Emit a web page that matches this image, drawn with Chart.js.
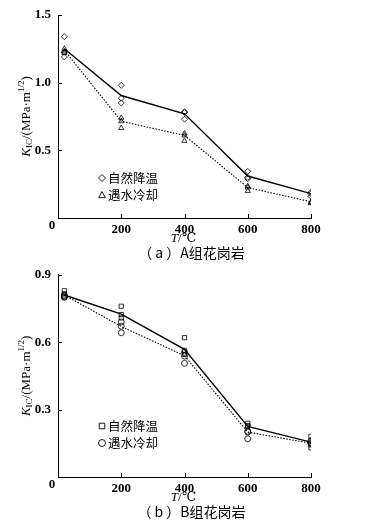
<!DOCTYPE html>
<html>
<head>
<meta charset="utf-8">
<script src="https://cdn.jsdelivr.net/npm/chart.js@4"></script>
<style>
body{margin:0;background:#fff;}
canvas{display:block;}
</style>
</head>
<body>
<canvas id="chartA" width="371" height="260"></canvas>
<canvas id="chartB" width="371" height="266"></canvas>
<script>
const temps = [20, 200, 400, 600, 800];
const seriesNames = ["自然降温", "遇水冷却"];

// (a) group A granite
const aNaturalMean = [1.25, 0.905, 0.77, 0.31, 0.18];
const aWaterMean = [1.24, 0.715, 0.61, 0.225, 0.12];
const aNaturalSamples = [[1.34, 1.225, 1.19], [0.98, 0.885, 0.85], [0.785, 0.78, 0.73], [0.345, 0.30, 0.29], [0.19, 0.18, 0.16]];
const aWaterSamples = [[1.25, 1.23, 1.22], [0.74, 0.715, 0.665], [0.625, 0.61, 0.57], [0.235, 0.225, 0.20], [0.12, 0.115, 0.11]];

// (b) group B granite
const bNaturalMean = [0.81, 0.725, 0.568, 0.225, 0.155];
const bWaterMean = [0.81, 0.67, 0.54, 0.20, 0.15];
const bNaturalSamples = [[0.829, 0.815, 0.80], [0.76, 0.723, 0.708], [0.62, 0.564, 0.546], [0.239, 0.229, 0.225], [0.181, 0.143, 0.13]];
const bWaterSamples = [[0.81, 0.805, 0.80], [0.69, 0.671, 0.642], [0.555, 0.538, 0.506], [0.204, 0.20, 0.17], [0.162, 0.155, 0.15]];

const SERIF = '"Liberation Serif", "DejaVu Serif", serif';
const CJK = '"Noto Sans CJK SC", sans-serif';

function meanPoints(means) {
  return temps.map((t, i) => ({ x: t, y: means[i] }));
}
function samplePoints(samples) {
  let pts = [];
  samples.forEach((vals, i) => vals.forEach(v => pts.push({ x: temps[i], y: v })));
  return pts;
}

function drawMarker(ctx, style, x, y, r) {
  ctx.beginPath();
  if (style === "rectRot") {
    ctx.moveTo(x, y - r); ctx.lineTo(x + r, y); ctx.lineTo(x, y + r); ctx.lineTo(x - r, y); ctx.closePath();
  } else if (style === "triangle") {
    ctx.moveTo(x, y - r); ctx.lineTo(x + r * 0.95, y + r * 0.75); ctx.lineTo(x - r * 0.95, y + r * 0.75); ctx.closePath();
  } else if (style === "rect") {
    ctx.rect(x - r * 0.8, y - r * 0.8, r * 1.6, r * 1.6);
  } else {
    ctx.arc(x, y, r, 0, Math.PI * 2);
  }
  ctx.stroke();
}

function decorPlugin(cfg) {
  return {
    id: "decor",
    afterDraw(chart) {
      const ctx = chart.ctx;
      const area = chart.chartArea;
      const xs = chart.scales.x, ys = chart.scales.y;
      ctx.save();
      ctx.strokeStyle = "#000";
      ctx.fillStyle = "#000";
      ctx.lineWidth = 1;
      // inward tick marks
      for (let v = cfg.yStep; v <= cfg.yMax + 1e-9; v += cfg.yStep) {
        const py = Math.round(ys.getPixelForValue(v)) + 0.5;
        ctx.beginPath(); ctx.moveTo(area.left, py); ctx.lineTo(area.left + 4, py); ctx.stroke();
      }
      for (let v = 200; v <= 800; v += 200) {
        const px = Math.round(xs.getPixelForValue(v)) + 0.5;
        ctx.beginPath(); ctx.moveTo(px, area.bottom); ctx.lineTo(px, area.bottom - 4); ctx.stroke();
      }
      // corner zero
      ctx.font = "bold 13px " + SERIF;
      ctx.textAlign = "center";
      ctx.textBaseline = "middle";
      ctx.fillText("0", area.left - 6, area.bottom + 8);

      // y title K_IC/(MPa·m^1/2)
      ctx.save();
      ctx.translate(27, (area.top + area.bottom) / 2);
      ctx.rotate(-Math.PI / 2);
      const parts = [
        { t: "K", f: "italic 13px " + SERIF, dy: 0 },
        { t: "IC", f: "9px " + SERIF, dy: 3 },
        { t: "/(MPa·m", f: "13px " + SERIF, dy: 0 },
        { t: "1/2", f: "9px " + SERIF, dy: -5 },
        { t: ")", f: "13px " + SERIF, dy: 0 }
      ];
      let total = 0;
      parts.forEach(p => { ctx.font = p.f; p.w = ctx.measureText(p.t).width; total += p.w; });
      let cx = -total / 2;
      ctx.textAlign = "left";
      parts.forEach(p => { ctx.font = p.f; ctx.fillText(p.t, cx, p.dy); cx += p.w; });
      ctx.restore();

      // x title T/℃
      const midX = (area.left + area.right) / 2 - 1;
      const tY = area.bottom + 21;
      ctx.font = "italic 13px " + SERIF;
      const wT = ctx.measureText("T").width;
      ctx.font = "13px " + SERIF;
      const wRest = ctx.measureText("/℃").width;
      ctx.textAlign = "left";
      ctx.font = "italic 13px " + SERIF;
      ctx.fillText("T", midX - (wT + wRest) / 2, tY);
      ctx.font = "13px " + SERIF;
      ctx.fillText("/℃", midX - (wT + wRest) / 2 + wT, tY);

      // caption
      ctx.textAlign = "center";
      ctx.font = "14px " + CJK;
      ctx.fillText(cfg.caption, midX + 8, area.bottom + 35);

      // legend
      ctx.textAlign = "left";
      ctx.font = "12.5px " + CJK;
      ctx.lineWidth = 0.9;
      cfg.legend.forEach((item, i) => {
        const ly = cfg.legendY[i];
        drawMarker(ctx, item.style, 102, ly, 3.5);
        ctx.fillText(item.label, 108, ly);
      });
      ctx.restore();
    }
  };
}

function makeChart(id, cfg) {
  const datasets = [
    { type: "line", data: meanPoints(cfg.naturalMean), borderColor: "#000", borderWidth: 1.4, pointRadius: 0, fill: false, order: 2 },
    { type: "line", data: meanPoints(cfg.waterMean), borderColor: "#000", borderWidth: 1.1, borderDash: [1.5, 1.5], pointRadius: 0, fill: false, order: 2 },
    { type: "scatter", data: samplePoints(cfg.naturalSamples), pointStyle: cfg.legend[0].style, pointRadius: 3, borderColor: "#000", borderWidth: 0.8, backgroundColor: "rgba(255,255,255,0)", order: 1 },
    { type: "scatter", data: samplePoints(cfg.waterSamples), pointStyle: cfg.legend[1].style, pointRadius: 3, borderColor: "#000", borderWidth: 0.8, backgroundColor: "rgba(255,255,255,0)", order: 1 }
  ];
  return new Chart(document.getElementById(id), {
    type: "scatter",
    data: { datasets: datasets },
    options: {
      responsive: false,
      animation: false,
      layout: { padding: { left: 0, right: 60, top: cfg.top, bottom: 0 } },
      plugins: { legend: { display: false }, tooltip: { enabled: false } },
      scales: {
        x: {
          type: "linear", min: 0, max: 800,
          grid: { display: false, drawTicks: false },
          border: { display: true, color: "#000", width: 1 },
          ticks: { stepSize: 200, padding: 4, color: "#000", font: { family: SERIF, size: 13, weight: "bold" },
            callback: v => (v === 0 ? "" : v) },
          afterFit: s => { s.height = cfg.bottomH; }
        },
        y: {
          min: 0, max: cfg.yMax,
          grid: { display: false, drawTicks: false },
          border: { display: true, color: "#000", width: 1 },
          ticks: { stepSize: cfg.yStep, padding: 7, color: "#000", font: { family: SERIF, size: 13, weight: "bold" },
            callback: v => (v === 0 ? "" : v.toFixed(1)) },
          afterFit: s => { s.width = 58; }
        }
      }
    },
    plugins: [decorPlugin(cfg)]
  });
}

makeChart("chartA", {
  naturalMean: aNaturalMean, waterMean: aWaterMean,
  naturalSamples: aNaturalSamples, waterSamples: aWaterSamples,
  yMax: 1.5, yStep: 0.5, top: 15, bottomH: 42,
  caption: "（ a ）A组花岗岩",
  legend: [{ label: seriesNames[0], style: "rectRot" }, { label: seriesNames[1], style: "triangle" }],
  legendY: [178, 195]
});

makeChart("chartB", {
  naturalMean: bNaturalMean, waterMean: bWaterMean,
  naturalSamples: bNaturalSamples, waterSamples: bWaterSamples,
  yMax: 0.9, yStep: 0.3, top: 13, bottomH: 49,
  caption: "（ b ）B组花岗岩",
  legend: [{ label: seriesNames[0], style: "rect" }, { label: seriesNames[1], style: "circle" }],
  legendY: [166, 183]
});
</script>
</body>
</html>
